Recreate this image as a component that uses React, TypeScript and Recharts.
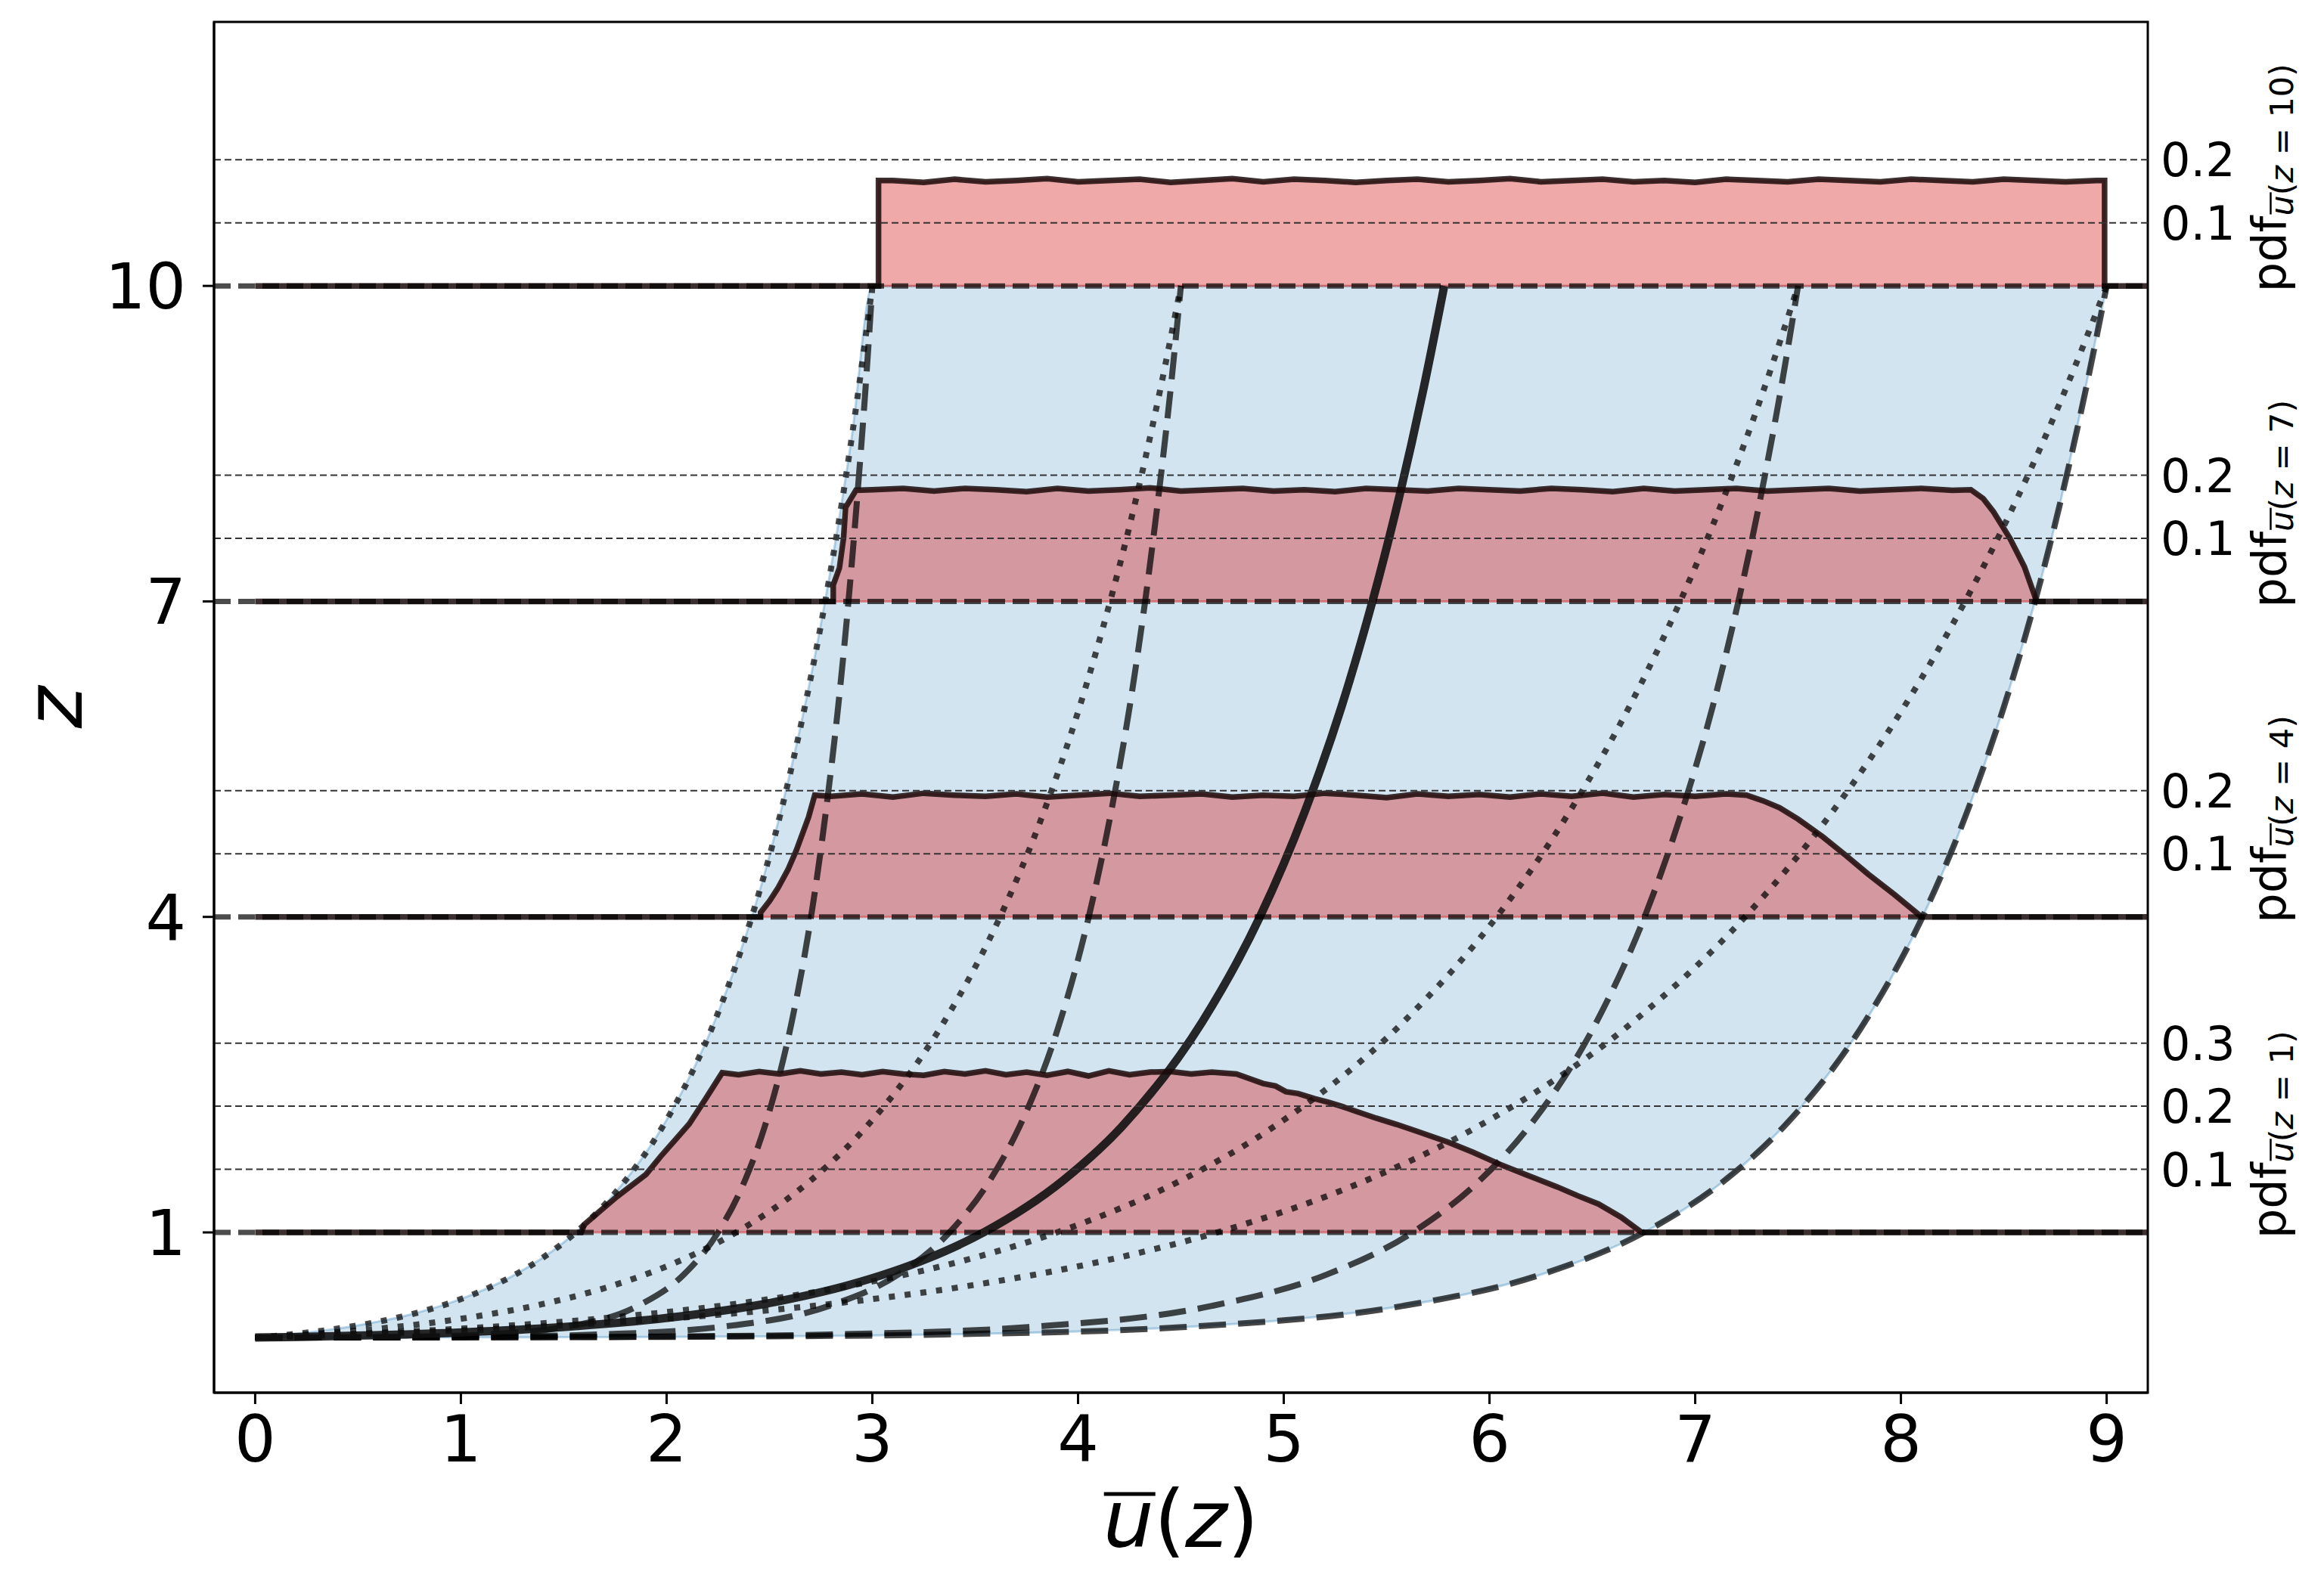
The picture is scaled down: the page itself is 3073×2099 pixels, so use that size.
import React from 'react';
import {
  ComposedChart,
  Area,
  Line,
  XAxis,
  YAxis,
  ReferenceLine,
  ReferenceArea,
} from 'recharts';

const FONT = 'DejaVu Sans';
const W = 3057;
const H = 2083;

// pdf heights are drawn in z units: 0.1 of pdf = 0.6 in z
const PDF_SCALE = 6;

const xTicks = [0, 1, 2, 3, 4, 5, 6, 7, 8, 9];
const zLevels = [1, 4, 7, 10];
const pdfTickSets = [
  [0.1, 0.2, 0.3],
  [0.1, 0.2],
  [0.1, 0.2],
  [0.1, 0.2],
];

// profiles ū(z), u at these heights
const dottedZ = [0, 0.01, 0.03, 0.06, 0.1, 0.2, 0.35, 0.5, 0.75, 1, 1.5, 2, 3, 4, 5, 6, 7, 8, 9, 10];
const dottedU3 = [0, 0.062, 0.171, 0.305, 0.451, 0.714, 0.978, 1.165, 1.391, 1.559, 1.802, 1.979, 2.232, 2.414, 2.556, 2.672, 2.771, 2.857, 2.932, 3.0];
const dottedU45 = [0, 0.093, 0.256, 0.458, 0.676, 1.071, 1.467, 1.747, 2.087, 2.338, 2.704, 2.969, 3.348, 3.621, 3.834, 4.008, 4.156, 4.285, 4.398, 4.5];
const dottedU75 = [0, 0.155, 0.427, 0.764, 1.127, 1.785, 2.444, 2.912, 3.478, 3.897, 4.506, 4.948, 5.581, 6.035, 6.389, 6.68, 6.927, 7.142, 7.331, 7.5];
const dottedU9 = [0, 0.186, 0.512, 0.916, 1.352, 2.142, 2.933, 3.494, 4.173, 4.676, 5.407, 5.937, 6.697, 7.242, 7.667, 8.016, 8.312, 8.57, 8.797, 9.0];

const dashedZ = [0, 0.001, 0.003, 0.01, 0.03, 0.1, 0.3, 0.6, 1, 1.5, 2, 3, 4, 5, 6, 7, 8, 9, 10];
const dashedU3 = [0, 0.226, 0.452, 0.781, 1.118, 1.503, 1.859, 2.084, 2.25, 2.382, 2.476, 2.608, 2.702, 2.774, 2.834, 2.884, 2.927, 2.966, 3.0];
const dashedU45 = [0, 0.339, 0.677, 1.171, 1.678, 2.255, 2.788, 3.126, 3.375, 3.573, 3.714, 3.912, 4.052, 4.161, 4.251, 4.326, 4.391, 4.449, 4.5];
const dashedU75 = [0, 0.565, 1.129, 1.952, 2.796, 3.758, 4.647, 5.21, 5.626, 5.956, 6.19, 6.52, 6.754, 6.935, 7.085, 7.21, 7.319, 7.415, 7.5];
const dashedU9 = [0, 0.678, 1.355, 2.343, 3.355, 4.51, 5.576, 6.252, 6.751, 7.147, 7.428, 7.824, 8.105, 8.322, 8.501, 8.652, 8.782, 8.897, 9.0];

const meanZ = [0, 0.005, 0.01, 0.02, 0.05, 0.1, 0.2, 0.35, 0.5, 0.75, 1, 1.5, 2, 3, 4, 5, 6, 7, 8, 9, 10];
const meanU = [0, 0.161, 0.3, 0.53, 1.007, 1.494, 2.061, 2.558, 2.887, 3.267, 3.541, 3.931, 4.21, 4.603, 4.884, 5.102, 5.281, 5.431, 5.562, 5.677, 5.78];

// shaded envelope between the outer profiles
const bandU = [0, 0.25, 0.5, 0.75, 1, 1.25, 1.5, 1.75, 2, 2.25, 2.5, 2.75, 2.9, 3, 3.5, 4, 4.5, 5, 5.5, 6, 6.25, 6.5, 6.75, 7, 7.25, 7.5, 7.75, 8, 8.25, 8.5, 8.75, 9];
const bandHigh = [0, 0.047, 0.116, 0.217, 0.366, 0.584, 0.905, 1.376, 2.069, 3.085, 4.58, 6.78, 8.56, 10, 10, 10, 10, 10, 10, 10, 10, 10, 10, 10, 10, 10, 10, 10, 10, 10, 10, 10];
const bandLow = [0, 0.0003, 0.0007, 0.0012, 0.0018, 0.0026, 0.0036, 0.005, 0.0067, 0.009, 0.012, 0.0157, 0.0185, 0.021, 0.035, 0.059, 0.099, 0.166, 0.278, 0.464, 0.599, 0.773, 1.0, 1.29, 1.67, 2.16, 2.78, 3.59, 4.64, 6.0, 7.74, 10.0];

// pdf of ū at each height, [u, pdf]
const pdf1: [number, number][] = [
  [1.585, 0], [1.6, 0.0125], [1.68, 0.035], [1.76, 0.057], [1.9, 0.092], [1.97, 0.12], [2.04, 0.146], [2.11, 0.172], [2.19, 0.212], [2.27, 0.253],
  [2.35, 0.25], [2.45, 0.255], [2.55, 0.251], [2.65, 0.256], [2.75, 0.251], [2.85, 0.254], [2.95, 0.25], [3.05, 0.255], [3.15, 0.251], [3.25, 0.249],
  [3.35, 0.255], [3.45, 0.251], [3.55, 0.256], [3.65, 0.25], [3.75, 0.254], [3.85, 0.249], [3.95, 0.255], [4.05, 0.248], [4.15, 0.256], [4.25, 0.25],
  [4.35, 0.254], [4.45, 0.255], [4.55, 0.251], [4.65, 0.254], [4.77, 0.251],
  [4.84, 0.243], [4.9, 0.236], [4.96, 0.232], [5.01, 0.223], [5.07, 0.22], [5.15, 0.212], [5.22, 0.206], [5.28, 0.2], [5.35, 0.192], [5.45, 0.181],
  [5.55, 0.171], [5.65, 0.16], [5.8, 0.143], [5.92, 0.127], [6.05, 0.108], [6.18, 0.091], [6.33, 0.072], [6.43, 0.058], [6.53, 0.045], [6.64, 0.024], [6.74, 0],
];
const pdf4: [number, number][] = [
  [2.457, 0], [2.457, 0.007], [2.5, 0.025], [2.54, 0.045], [2.59, 0.075], [2.63, 0.105], [2.69, 0.158], [2.72, 0.193],
  [2.8, 0.191], [2.95, 0.195], [3.1, 0.19], [3.25, 0.196], [3.4, 0.193], [3.55, 0.191], [3.7, 0.195], [3.85, 0.19], [4.0, 0.193], [4.15, 0.196],
  [4.3, 0.191], [4.45, 0.193], [4.6, 0.195], [4.75, 0.19], [4.9, 0.193], [5.05, 0.191], [5.2, 0.196], [5.35, 0.193], [5.5, 0.189], [5.65, 0.195],
  [5.8, 0.191], [5.95, 0.194], [6.1, 0.19], [6.25, 0.195], [6.4, 0.191], [6.55, 0.196], [6.7, 0.19], [6.85, 0.194], [7.0, 0.191], [7.15, 0.195],
  [7.25, 0.193], [7.33, 0.184], [7.41, 0.173], [7.5, 0.155], [7.62, 0.127], [7.73, 0.098], [7.84, 0.068], [7.97, 0.035], [8.1, 0],
];
const pdf7: [number, number][] = [
  [2.81, 0], [2.81, 0.026], [2.84, 0.053], [2.86, 0.1], [2.87, 0.149], [2.92, 0.176],
  [3.0, 0.177], [3.15, 0.179], [3.3, 0.175], [3.45, 0.179], [3.6, 0.177], [3.75, 0.174], [3.9, 0.179], [4.05, 0.175], [4.2, 0.177], [4.35, 0.18],
  [4.5, 0.175], [4.65, 0.177], [4.8, 0.179], [4.95, 0.175], [5.1, 0.177], [5.25, 0.174], [5.4, 0.179], [5.55, 0.177], [5.7, 0.175], [5.85, 0.179],
  [6.0, 0.177], [6.15, 0.175], [6.3, 0.179], [6.45, 0.177], [6.6, 0.174], [6.75, 0.179], [6.9, 0.175], [7.05, 0.177], [7.2, 0.179], [7.35, 0.175],
  [7.5, 0.177], [7.65, 0.179], [7.8, 0.175], [7.95, 0.177], [8.1, 0.179], [8.25, 0.176],
  [8.34, 0.177], [8.4, 0.163], [8.45, 0.142], [8.53, 0.1], [8.6, 0.055], [8.66, 0],
];
const pdf10: [number, number][] = [
  [3.03, 0], [3.03, 0.167],
  [3.1, 0.167], [3.25, 0.164], [3.4, 0.169], [3.55, 0.165], [3.7, 0.167], [3.85, 0.17], [4.0, 0.165], [4.15, 0.167], [4.3, 0.169], [4.45, 0.164],
  [4.6, 0.167], [4.75, 0.17], [4.9, 0.165], [5.05, 0.169], [5.2, 0.167], [5.35, 0.164], [5.5, 0.167], [5.65, 0.169], [5.8, 0.165], [5.95, 0.167],
  [6.1, 0.17], [6.25, 0.165], [6.4, 0.167], [6.55, 0.169], [6.7, 0.165], [6.85, 0.167], [7.0, 0.164], [7.15, 0.169], [7.3, 0.167], [7.45, 0.165],
  [7.6, 0.169], [7.75, 0.167], [7.9, 0.165], [8.05, 0.169], [8.2, 0.167], [8.35, 0.165], [8.5, 0.169], [8.65, 0.167], [8.8, 0.165], [8.95, 0.167],
  [8.99, 0.167], [8.99, 0],
];

const curve = (us: number[], zs: number[]) => us.map((u, i) => ({ u, z: zs[i] }));
const dottedCurves = [dottedU3, dottedU45, dottedU75, dottedU9].map((us) => curve(us, dottedZ));
const dashedCurves = [dashedU3, dashedU45, dashedU75, dashedU9].map((us) => curve(us, dashedZ));
const meanCurve = curve(meanU, meanZ);
const bandData = bandU.map((u, i) => ({ u, r: [bandLow[i], bandHigh[i]] }));

const pdfs = [pdf1, pdf4, pdf7, pdf10];
const pdfFill = pdfs.map((p, k) =>
  p.map(([u, d]) => ({ u, r: [zLevels[k], zLevels[k] + d * PDF_SCALE] }))
);
const pdfEdge = pdfs.map((p, k) => [
  { u: 0, z: zLevels[k] },
  ...p.map(([u, d]) => ({ u, z: zLevels[k] + d * PDF_SCALE })),
  { u: 9.2, z: zLevels[k] },
]);

const PdfLabel = (props: any) => {
  const { viewBox, level } = props;
  if (!viewBox) return null;
  const bx = viewBox.x + viewBox.width + 182;
  const by = viewBox.y + 8;
  const main = 62;
  const sub = 43;
  const pdfW = 1.622 * main;
  const oy = 10 - 0.547 * sub - 6;
  return (
    <g transform={`translate(${bx},${by}) rotate(-90)`}>
      <text x={0} y={0} fontFamily={FONT} fontSize={main} fill="#000" style={{ whiteSpace: 'pre' }}>
        pdf
        <tspan fontSize={sub} dy={10} fontStyle="italic">u</tspan>
        <tspan fontSize={sub}>(</tspan>
        <tspan fontSize={sub} fontStyle="italic">z</tspan>
        <tspan fontSize={sub}>{` = ${level})`}</tspan>
      </text>
      <line x1={pdfW + 2} x2={pdfW + 0.634 * sub + 4} y1={oy} y2={oy} stroke="#000" strokeWidth={2.5} />
    </g>
  );
};

const XLabel = (props: any) => {
  const { viewBox } = props;
  if (!viewBox) return null;
  const fs = 106;
  const w = (0.634 + 0.39 + 0.525 + 0.39) * fs;
  const x0 = viewBox.x + viewBox.width / 2 - w / 2;
  const base = viewBox.y + 204;
  return (
    <g>
      <text x={x0} y={base} fontFamily={FONT} fontSize={fs} fill="#000">
        <tspan fontStyle="italic">u</tspan>
        <tspan>(</tspan>
        <tspan fontStyle="italic">z</tspan>
        <tspan>)</tspan>
      </text>
      <line x1={x0 + 1} x2={x0 + 69} y1={base - 70} y2={base - 70} stroke="#000" strokeWidth={5} />
    </g>
  );
};

const YLabel = (props: any) => {
  const { viewBox } = props;
  if (!viewBox) return null;
  const x = viewBox.x + 100;
  const y = viewBox.y + viewBox.height / 2;
  return (
    <text
      x={x}
      y={y}
      transform={`rotate(-90, ${x}, ${y})`}
      textAnchor="middle"
      fontFamily={FONT}
      fontSize={106}
      fontStyle="italic"
      fill="#000"
    >
      z
    </text>
  );
};

const lineColor = '#000';

export default function App() {
  return (
    <ComposedChart width={W} height={H} margin={{ top: 21, right: 225, bottom: 0, left: 0 }}>
      <XAxis
        type="number"
        dataKey="u"
        domain={[-0.2, 9.2]}
        allowDataOverflow
        ticks={xTicks}
        interval={0}
        height={249}
        tickSize={15}
        tickMargin={15}
        tick={{ fill: '#000', fontSize: 86, fontFamily: FONT }}
        tickLine={{ stroke: '#000', strokeWidth: 3 }}
        axisLine={{ stroke: '#000', strokeWidth: 3 }}
        label={<XLabel />}
      />
      <YAxis
        type="number"
        dataKey="z"
        domain={[-0.524, 12.51]}
        allowDataOverflow
        ticks={zLevels}
        interval={0}
        width={275}
        tickSize={15}
        tickMargin={22}
        tick={{ fill: '#000', fontSize: 84, fontFamily: FONT }}
        tickLine={{ stroke: '#000', strokeWidth: 3 }}
        axisLine={{ stroke: '#000', strokeWidth: 3 }}
        label={<YLabel />}
      />

      <Area
        data={bandData}
        dataKey="r"
        type="monotone"
        fill="#1f77b4"
        fillOpacity={0.2}
        stroke="#1f77b4"
        strokeOpacity={0.3}
        strokeWidth={3}
        isAnimationActive={false}
      />

      {pdfFill.map((d, k) => (
        <Area
          key={`pf${k}`}
          data={d}
          dataKey="r"
          type="linear"
          fill="#d62728"
          fillOpacity={0.4}
          stroke="#d62728"
          strokeOpacity={0.45}
          strokeWidth={3}
          isAnimationActive={false}
        />
      ))}

      {dottedCurves.map((d, k) => (
        <Line
          key={`dot${k}`}
          data={d}
          dataKey="z"
          type="monotone"
          dot={false}
          stroke={lineColor}
          strokeOpacity={0.72}
          strokeWidth={8}
          strokeDasharray="8 13"
          isAnimationActive={false}
        />
      ))}
      {dashedCurves.map((d, k) => (
        <Line
          key={`dash${k}`}
          data={d}
          dataKey="z"
          type="monotone"
          dot={false}
          stroke={lineColor}
          strokeOpacity={0.72}
          strokeWidth={8}
          strokeDasharray="36 16"
          isAnimationActive={false}
        />
      ))}
      <Line
        data={meanCurve}
        dataKey="z"
        type="monotone"
        dot={false}
        stroke="#111"
        strokeOpacity={0.9}
        strokeWidth={11}
        isAnimationActive={false}
      />

      {pdfEdge.map((d, k) => (
        <Line
          key={`pe${k}`}
          data={d}
          dataKey="z"
          type="linear"
          dot={false}
          stroke="#1a0a0a"
          strokeOpacity={0.85}
          strokeWidth={7.5}
          isAnimationActive={false}
        />
      ))}

      {zLevels.map((z) => (
        <ReferenceLine
          key={`zl${z}`}
          y={z}
          stroke="#000"
          strokeOpacity={0.7}
          strokeWidth={7}
          strokeDasharray="22 10"
          label={<PdfLabel level={z} />}
        />
      ))}
      {zLevels.flatMap((z, k) =>
        pdfTickSets[k].map((t) => (
          <ReferenceLine
            key={`g${z}-${t}`}
            y={z + t * PDF_SCALE}
            stroke="#333"
            strokeWidth={2}
            strokeDasharray="9 5"
            label={{ value: String(t), position: 'right', offset: 17, fontSize: 62, fill: '#000', fontFamily: FONT }}
          />
        ))
      )}
      <ReferenceArea
        x1={-0.2}
        x2={9.2}
        y1={-0.524}
        y2={12.51}
        fill="none"
        fillOpacity={0}
        stroke="#000"
        strokeWidth={3}
        ifOverflow="visible"
      />
    </ComposedChart>
  );
}
